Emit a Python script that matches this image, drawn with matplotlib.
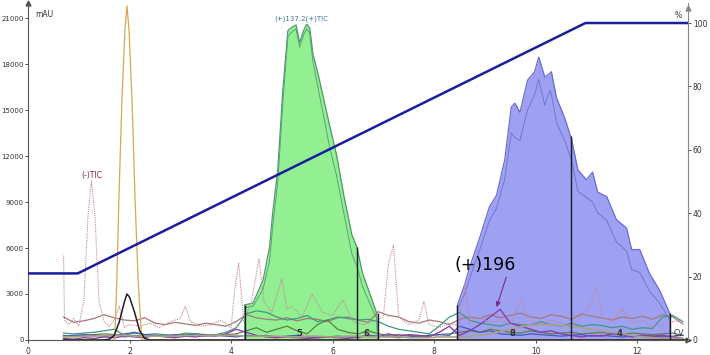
"""
Preparative HPLC run: UV trace, MS TIC traces, collected fractions and the %B gradient.
"""

import matplotlib.pyplot as plt

# ---- data ---------------------------------------------------------------
# gradient programme (%B)
grad_t = [0.0, 0.98, 10.98, 13.0]
grad_pct = [21, 21, 100, 100]

# fraction peak 1 (green), outer and inner trace
green_t = [4.27, 4.27, 4.43, 4.63, 4.76, 4.82, 4.92, 5.02, 5.12, 5.20,
           5.28, 5.35, 5.43, 5.49, 5.55, 5.61, 5.71, 5.83, 5.94, 6.08,
           6.22, 6.38, 6.48, 6.59, 6.73, 6.87, 6.89]
green_outer = [0, 2300, 2400, 3900, 6100, 8300, 11100, 16300, 20200, 20400,
               20550, 19400, 20200, 20600, 20350, 18700, 17400, 15650, 14000, 12050,
               9450, 6850, 6050, 4350, 3050, 1750, 0]
green_inner = [0, 2100, 2200, 3300, 5200, 7400, 10300, 15500, 19800, 20100,
               20300, 19100, 19900, 20300, 20000, 18200, 16500, 14500, 12600, 10700,
               8300, 5600, 4800, 3500, 2400, 1400, 0]

# fraction peak 2 (blue), outer and inner trace
blue_t = [8.46, 8.46, 8.60, 8.70, 8.90, 9.09, 9.23, 9.39, 9.52, 9.59,
          9.69, 9.84, 9.98, 10.06, 10.18, 10.28, 10.31, 10.41, 10.57, 10.71,
          10.83, 11.00, 11.12, 11.22, 11.40, 11.59, 11.79, 11.89, 12.05, 12.24,
          12.44, 12.64, 12.64]
blue_outer = [0, 2300, 3600, 4750, 6700, 8700, 9450, 11750, 15200, 15450,
              14850, 16950, 17500, 18450, 17150, 17400, 17500, 15800, 14500, 13050,
              11100, 10450, 10950, 9650, 9350, 7850, 7300, 5900, 5900, 4350,
              3250, 1750, 0]
blue_inner = [0, 2000, 3000, 4000, 5900, 7800, 8600, 10500, 13500, 13200,
              13000, 15000, 16000, 17000, 15300, 16300, 16000, 14200, 13000, 11700,
              9700, 9300, 9000, 8300, 7800, 6400, 5800, 4600, 4400, 3200,
              2400, 1300, 0]

# fraction cut points (time, height of the cut mark) and fraction numbers
frac_edges = [4.27, 6.48, 6.89, 8.46, 10.69, 12.64]
frac_tops = [2300, 6050, 1750, 2300, 13300, 1750]
frac_label_t = [5.35, 6.67, 9.55, 11.65]
frac_labels = ["5", "6", "8", "4"]

# early peaks
orange_t = [0.7, 1.6, 1.71, 1.75, 1.79, 1.85, 1.91, 1.95, 1.99, 2.05, 2.11, 2.17, 2.24, 2.4, 13.0]
orange_y = [0, 0, 0, 3900, 9100, 15600, 20200, 21800, 20200, 15600, 9100, 3900, 0, 0, 0]

black_t = [0.7, 1.5, 1.6, 1.7, 1.8, 1.9, 1.95, 2.0, 2.1, 2.2, 2.3, 2.4, 13.0]
black_y = [0, 0, 50, 300, 1200, 2500, 3000, 2800, 1800, 600, 100, 0, 0]

# (-)TIC, dotted
tic_t = [0.7, 0.72, 0.8, 0.9, 1.0, 1.1, 1.18, 1.25, 1.32, 1.4,
         1.5, 1.6, 1.7, 1.8, 1.9, 2.0, 2.2, 2.4, 2.6, 2.8,
         3.0, 3.1, 3.2, 3.4, 3.6, 3.8, 4.0, 4.08, 4.15, 4.25,
         4.4, 4.55, 4.65, 4.8, 5.0, 5.1, 5.2, 5.4, 5.6, 5.8,
         6.0, 6.2, 6.4, 6.6, 6.8, 7.0, 7.1, 7.2, 7.3, 7.5,
         7.7, 7.8, 7.9, 8.1, 8.3, 8.5, 8.6, 8.7, 8.9, 9.1,
         9.3, 9.5, 9.7, 9.9, 10.1, 10.3, 10.5, 10.7, 10.9, 11.1,
         11.2, 11.3, 11.5, 11.7, 11.9, 12.1, 12.3, 12.5, 12.7, 12.9]
tic_y = [5500, 1300, 1000, 1400, 900, 2500, 8000, 10400, 8000, 2500,
         1200, 900, 1300, 2200, 800, 1000, 900, 1100, 800, 1200,
         1400, 2200, 1200, 900, 1000, 1300, 800, 3500, 5000, 1200,
         2500, 5300, 2500, 1800, 4000, 2000, 2200, 1500, 3000, 1800,
         1600, 2600, 1200, 1000, 1200, 1500, 5000, 6200, 1500, 1000,
         1300, 2500, 1000, 800, 1100, 900, 3700, 1200, 1500, 1100,
         1300, 1000, 2600, 1200, 1000, 1300, 1100, 900, 1500, 2500,
         3500, 1500, 1200, 2000, 1100, 1300, 900, 1000, 1200, 1300]

# baseline channels, sampled every 0.2 min from 0.7 to 12.9
base_t = [0.7, 0.9, 1.1, 1.3, 1.5, 1.7, 1.9, 2.1, 2.3, 2.5,
          2.7, 2.9, 3.1, 3.3, 3.5, 3.7, 3.9, 4.1, 4.3, 4.5,
          4.7, 4.9, 5.1, 5.3, 5.5, 5.7, 5.9, 6.1, 6.3, 6.5,
          6.7, 6.9, 7.1, 7.3, 7.5, 7.7, 7.9, 8.1, 8.3, 8.5,
          8.7, 8.9, 9.1, 9.3, 9.5, 9.7, 9.9, 10.1, 10.3, 10.5,
          10.7, 10.9, 11.1, 11.3, 11.5, 11.7, 11.9, 12.1, 12.3, 12.5,
          12.7, 12.9]
mauve_y = [1500, 1150, 1250, 1400, 1650, 1450, 1300, 1250, 1450, 1100,
           1000, 1150, 1050, 950, 1100, 1000, 900, 1200, 1650, 1450,
           1350, 1300, 1450, 1250, 1400, 1350, 1200, 1450, 1500, 1300,
           1150, 1850, 1600, 1500, 1200, 1100, 1300, 1200, 1000, 1350,
           1500, 1400, 1650, 1450, 1600, 1750, 1500, 1400, 1650, 1550,
           1350, 1700, 1550, 1450, 1300, 1500, 1400, 1550, 1350, 1650,
           1500, 1050]
teal_y = [450, 400, 450, 500, 600, 700, 300, 450, 350, 400,
          350, 300, 450, 400, 300, 350, 500, 800, 1700, 1900,
          1800, 1500, 1300, 1400, 1600, 1200, 1300, 1500, 1400, 1300,
          1350, 1200, 900, 700, 600, 500, 400, 900, 1500, 1800,
          1300, 1100, 1000, 900, 1100, 1000, 950, 1200, 1000, 900,
          1100, 900, 1000, 950, 800, 900, 700, 800, 750, 1500,
          1600, 1200]
olive_y = [300, 250, 300, 350, 400, 350, 200, 300, 250, 300,
           250, 300, 350, 300, 250, 300, 350, 400, 600, 800,
           500, 700, 900, 600, 400, 1000, 1300, 700, 500, 400,
           600, 400, 300, 350, 300, 250, 300, 350, 400, 500,
           600, 500, 700, 600, 500, 450, 600, 500, 400, 450,
           500, 400, 450, 500, 400, 350, 450, 400, 350, 400,
           450, 300]
blue_base_y = [250, 300, 350, 300, 250, 300, 400, 500, 350, 300,
               250, 350, 300, 400, 350, 300, 250, 200, 300, 250,
               300, 200, 250, 300, 200, 150, 200, 250, 200, 150,
               300, 250, 200, 150, 200, 250, 300, 350, 300, 900,
               700, 500, 600, 400, 350, 300, 400, 350, 300, 250,
               300, 350, 250, 300, 250, 200, 250, 300, 250, 200,
               250, 300]
purple_y = [100, 50, 150, 100, 200, 150, 250, 200, 150, 300,
            200, 150, 250, 200, 300, 250, 400, 700, 500, 300,
            200, 150, 200, 150, 100, 150, 200, 150, 100, 200,
            300, 200, 400, 250, 350, 300, 200, 500, 900, 300,
            600, 1000, 1500, 2000, 1100, 900, 700, 500, 600, 400,
            300, 200, 300, 250, 400, 350, 200, 300, 250, 300,
            200, 100]
tan_y = [200, 200, 250, 250, 300, 300, 300, 250, 250, 250,
         250, 250, 300, 300, 300, 300, 300, 300, 250, 250,
         250, 250, 200, 200, 250, 250, 200, 200, 250, 250,
         200, 200, 200, 200, 150, 150, 150, 200, 200, 200,
         250, 300, 400, 550, 700, 850, 950, 1000, 1000, 950,
         900, 800, 700, 600, 500, 400, 300, 200, 150, 100,
         100, 100]

# ---- figure ---------------------------------------------------------------
fig = plt.figure(figsize=(7.1, 3.55), dpi=100)
ax = fig.add_axes([0.0394, 0.0423, 0.9296, 0.95])
ax.set_xlim(0, 13)
ax.set_ylim(0, 22000)

# fraction fills
ax.fill_between(green_t, green_outer, color="#92f092", lw=0, zorder=1)
ax.plot(green_t, green_outer, color="#4f9a6a", lw=0.9, zorder=2)
ax.plot(green_t, green_inner, color="#5fa07a", lw=0.7, zorder=2)
ax.fill_between(blue_t, blue_outer, color="#9ea0f2", lw=0, zorder=1)
ax.plot(blue_t, blue_outer, color="#6a6cd2", lw=0.9, zorder=2)
ax.plot(blue_t, blue_inner, color="#7476cc", lw=0.7, zorder=2)

# baseline channels
ax.plot(base_t, mauve_y, color="#a87878", lw=0.9, zorder=3)
ax.plot(base_t, teal_y, color="#3f9a80", lw=0.9, zorder=3)
ax.plot(base_t, olive_y, color="#5b7f4a", lw=0.9, zorder=3)
ax.plot(base_t, blue_base_y, color="#4658b8", lw=0.9, zorder=3)
ax.plot(base_t, purple_y, color="#8a3fa8", lw=1.0, zorder=3)
ax.plot(base_t, tan_y, color="#a8a088", lw=1.2, zorder=3)
ax.plot(tic_t, tic_y, color="#c08a98", lw=0.8, ls=(0, (1, 1)), zorder=3)
ax.plot(orange_t, orange_y, color="#d8a84e", lw=0.9, zorder=3)
ax.plot(black_t, black_y, color="#202020", lw=1.1, zorder=3)

# fraction cut marks and numbers
ax.vlines(frac_edges, 0, frac_tops, color="#1a1a2a", lw=1.0, zorder=4)
for t, lab in zip(frac_label_t, frac_labels):
    ax.text(t, 420, lab, fontsize=6, ha="center", va="center", color="#333333",
            fontweight="bold", zorder=5)

# annotations
ax.text(0.15, 21250, "mAU", fontsize=5.5, color="#333333", va="center")
ax.text(1.25, 10750, "(-)TIC", fontsize=5.5, color="#7a2a3a", ha="center", va="center")
ax.text(5.39, 20950, "(+)137.2(+)TIC", fontsize=5, color="#3a7a8a", ha="center", va="center")
ax.text(12.83, 450, "CV", fontsize=5.5, color="#333333", ha="center", va="center")
ax.text(9.0, 4900, "(+)196", fontsize=12.5, ha="center", va="center", color="black")
ax.annotate("", xy=(9.23, 2150), xytext=(9.42, 4100),
            arrowprops=dict(arrowstyle="-|>", color="#7a2a8a", lw=0.8,
                            mutation_scale=7, shrinkA=0, shrinkB=0))

# axes styling
ax.spines["top"].set_visible(False)
ax.spines["right"].set_visible(False)
for s in ("left", "bottom"):
    ax.spines[s].set_color("#555555")
    ax.spines[s].set_linewidth(0.8)
ax.set_yticks([0, 3000, 6000, 9000, 12000, 15000, 18000, 21000])
ax.set_xticks([0, 2, 4, 6, 8, 10, 12])
ax.tick_params(axis="y", labelsize=5, colors="#333333", length=2, width=0.6, pad=1)
ax.tick_params(axis="x", labelsize=5.5, colors="#333333", length=2.5, width=0.6, pad=2.5)
ax.plot(0, 1, "^", transform=ax.transAxes, color="#555555", ms=3.5, clip_on=False)
ax.plot(1, 0, ">", transform=ax.transAxes, color="#555555", ms=3.5, clip_on=False)

# gradient on the %B axis
ax2 = ax.twinx()
ax2.set_ylim(0, 106.4)
ax2.plot(grad_t, grad_pct, color="#1c1ca0", lw=1.8, zorder=6)
for s in ("top", "left", "bottom"):
    ax2.spines[s].set_visible(False)
ax2.spines["right"].set_color("#888888")
ax2.spines["right"].set_linewidth(0.8)
ax2.set_yticks([0, 20, 40, 60, 80, 100])
ax2.tick_params(labelsize=5.5, colors="#333333", length=2.5, width=0.6, pad=1)
ax2.text(12.8, 102.5, "%", fontsize=5.5, color="#333333", ha="center", va="center")
ax2.plot(1, 0.985, "^", transform=ax2.transAxes, color="#888888", ms=3.5, clip_on=False)

fig.savefig("out.png", dpi=100)
